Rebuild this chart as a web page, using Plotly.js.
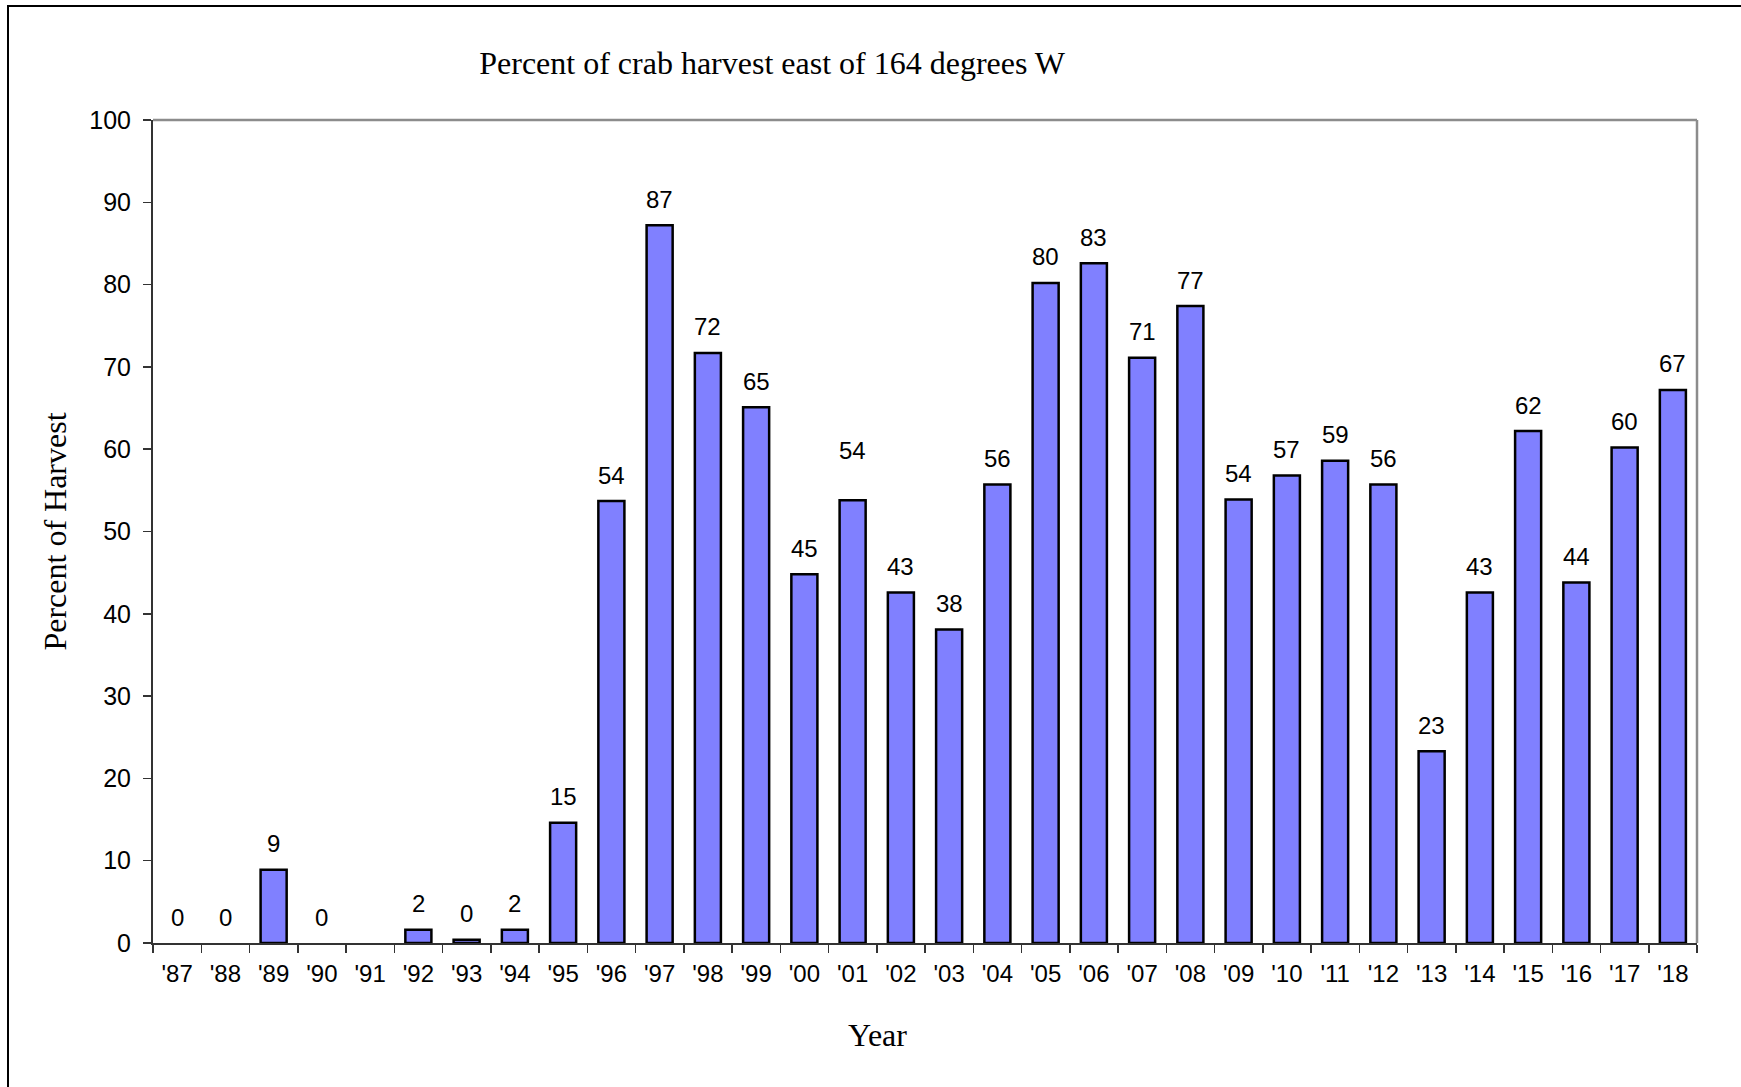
<!DOCTYPE html>
<html>
<head>
<meta charset="utf-8">
<script src="https://cdn.plot.ly/plotly-3.0.1.min.js"></script>
<style>
  html, body { margin: 0; padding: 0; background: #fff; }
  #frame { position: absolute; left: 7px; top: 5px; width: 2000px; height: 2000px;
           border-left: 2px solid #000; border-top: 2px solid #000; pointer-events: none; z-index: 5; }
  #chart { width: 1741px; height: 1087px; }
</style>
</head>
<body>
<div id="frame"></div>
<div id="chart"></div>
<script>
// Category labels (years)
const years = ["'87","'88","'89","'90","'91","'92","'93","'94","'95","'96","'97","'98","'99","'00","'01","'02","'03","'04","'05","'06","'07","'08","'09","'10","'11","'12","'13","'14","'15","'16","'17","'18"];
// Percent of crab harvest east of 164 degrees W
const percentEast = [0, 0, 8.9, 0, null, 1.6, 0.4, 1.6, 14.6, 53.7, 87.2, 71.7, 65.1, 44.8, 53.8, 42.6, 38.1, 55.7, 80.2, 82.6, 71.1, 77.4, 53.9, 56.8, 58.6, 55.7, 23.3, 42.6, 62.2, 43.8, 60.2, 67.2];
const yTicks = [0, 10, 20, 30, 40, 50, 60, 70, 80, 90, 100];

const chartTitle = 'Percent of crab harvest east of 164 degrees W';
const xTitle = 'Year';
const yTitle = 'Percent of Harvest';

const sans = 'Liberation Sans, Arial, sans-serif';
const serif = 'Liberation Serif, Times New Roman, serif';

// extra label lift for a manually moved label in the original
const extraLift = {"'01": 24};

const annotations = [];
years.forEach((yr, i) => {
  const v = percentEast[i];
  if (v === null) return;
  annotations.push({
    x: yr, y: v, xref: 'x', yref: 'y',
    text: String(Math.round(v)),
    showarrow: false, yanchor: 'middle',
    yshift: 26 + (extraLift[yr] || 0),
    font: {family: sans, size: 24, color: '#000'}
  });
});
// x-axis title (placed off-centre as in the original)
annotations.push({
  text: xTitle, xref: 'paper', yref: 'paper', x: 0.469, y: -0.112,
  xanchor: 'center', yanchor: 'middle', showarrow: false,
  font: {family: serif, size: 32, color: '#000'}
});

const trace = {
  type: 'bar',
  x: years,
  y: percentEast,
  marker: {color: '#8080FF', line: {color: '#000', width: percentEast.map(v => (v ? 2.5 : 0))}},
  hoverinfo: 'x+y'
};

const layout = {
  width: 1741, height: 1087,
  margin: {l: 153, r: 44, t: 120, b: 144},
  paper_bgcolor: '#fff', plot_bgcolor: '#fff',
  showlegend: false,
  bargap: 0.46,
  title: {text: chartTitle, font: {family: serif, size: 32, color: '#000'},
          x: 0.401, xref: 'paper', xanchor: 'center', y: 0.942, yanchor: 'middle'},
  xaxis: {
    type: 'category',
    tickfont: {family: sans, size: 24, color: '#000'},
    ticks: 'outside', tickson: 'boundaries', ticklen: 8, tickcolor: '#333', tickwidth: 1.5,
    ticklabelstandoff: 8,
    showline: true, linecolor: '#333', linewidth: 2,
    showgrid: false, zeroline: false, fixedrange: true
  },
  yaxis: {
    range: [0, 100],
    tickvals: yTicks,
    title: {text: yTitle, font: {family: serif, size: 32, color: '#000'}, standoff: 13},
    tickfont: {family: sans, size: 25, color: '#000'},
    ticks: 'outside', ticklen: 8, tickcolor: '#333', tickwidth: 1.5,
    ticklabelstandoff: 7,
    showline: true, linecolor: '#333', linewidth: 2,
    showgrid: false, zeroline: false, fixedrange: true
  },
  shapes: [
    {type: 'line', xref: 'paper', yref: 'paper', x0: 0, x1: 1, y0: 1, y1: 1, line: {color: '#8c8c8c', width: 2.5}},
    {type: 'line', xref: 'paper', yref: 'paper', x0: 1, x1: 1, y0: 0, y1: 1, line: {color: '#8c8c8c', width: 2.5}}
  ],
  annotations: annotations
};

Plotly.newPlot('chart', [trace], layout, {displayModeBar: false, staticPlot: true});
</script>
</body>
</html>
